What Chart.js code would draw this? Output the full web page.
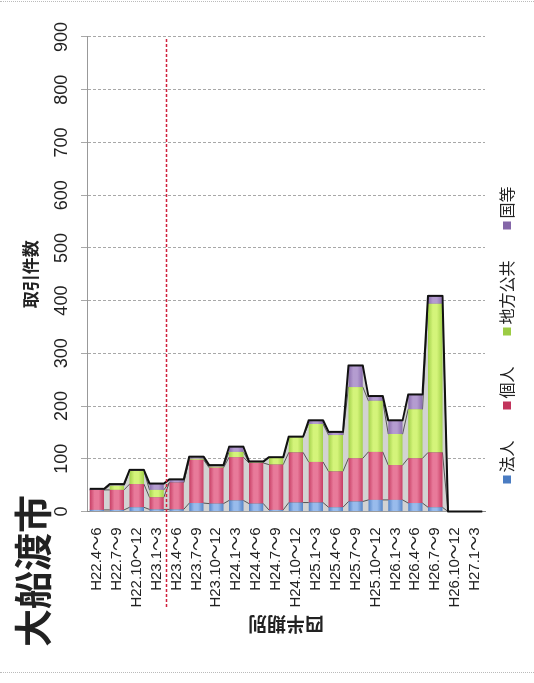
<!DOCTYPE html>
<html lang="ja">
<head>
<meta charset="utf-8">
<title>大船渡市 取引件数</title>
<script src="https://cdn.jsdelivr.net/npm/chart.js@4.4.1/dist/chart.umd.min.js"></script>
<style>
html,body{margin:0;padding:0;background:#fff;overflow:hidden;}
body{width:534px;height:683px;position:relative;}
/* the whole chart is drawn sideways, then turned a quarter to the left */
#wrap{position:absolute;left:0;top:683px;width:683px;height:534px;transform-origin:0 0;transform:rotate(-90deg);}
.edge{position:absolute;left:0;width:534px;border-top:1px dotted #bbb;}
</style>
</head>
<body>
<div class="edge" style="top:1px"></div>
<div class="edge" style="top:672px"></div>
<div id="wrap"><canvas id="chart" width="683" height="534"></canvas></div>
<script>
const cityName = '大船渡市';
const valueTitle = '取引件数';
const categoryTitle = '四半期別';
const categories = ['H22.4～6','H22.7～9','H22.10～12','H23.1～3','H23.4～6','H23.7～9','H23.10～12',
    'H24.1～3','H24.4～6','H24.7～9','H24.10～12','H25.1～3','H25.4～6','H25.7～9','H25.10～12',
    'H26.1～3','H26.4～6','H26.7～9','H26.10～12','H27.1～3'];
const seriesNames = ['法人','個人','地方公共','国等'];
const houjin = [3,3,8,4,4,16,15,21,15,3,17,17,8,19,22,22,16,8,0,0];
const kojin  = [38,38,44,23,51,82,68,82,77,86,95,77,68,82,91,66,85,104,0,0];
const chihou = [0,8,25,14,0,2,2,10,1,13,29,72,69,135,97,59,93,282,0,0];
const kuni   = [2,3,2,12,6,4,3,10,2,1,1,7,6,41,9,26,28,15,0,0];
const valueMax = 900;
const valueStep = 100;
const splitAfter = 3; // dashed line after H23.1～3

const seriesColours = ['#4a7cc2','#c2345c','#9ccc44','#8466a8'];
const seriesLights  = ['#98bbec','#e87a9a','#d4f47a','#b49cd0'];

const latin = "'Liberation Sans', 'Noto Sans CJK JP', sans-serif";
const jp = "'Noto Sans CJK JP', sans-serif";

function barFill(base, light){
    return function(ctx){
        if(ctx.type !== 'data') return base;
        const chart = ctx.chart;
        const y = chart.scales.y;
        if(!y || !chart.chartArea) return base;
        const c = y.getPixelForValue(ctx.dataIndex);
        const g = chart.ctx.createLinearGradient(0, c - 8, 0, c + 8);
        g.addColorStop(0, base);
        g.addColorStop(0.35, light);
        g.addColorStop(0.6, light);
        g.addColorStop(1, base);
        return g;
    };
}

// corner points of every bar end of one stack level
function edgePoints(chart, k){
    const pts = [];
    chart.getDatasetMeta(k).data.forEach(bar => {
        const p = bar.getProps(['x','y','height'], true);
        pts.push([p.x, p.y - p.height/2], [p.x, p.y + p.height/2]);
    });
    return pts;
}

function strokePts(ctx, pts){
    ctx.beginPath();
    pts.forEach((p, i) => i ? ctx.lineTo(p[0], p[1]) : ctx.moveTo(p[0], p[1]));
    ctx.stroke();
}

const outlinePlugin = {
    id: 'outline',
    beforeDatasetsDraw(chart){
        const ctx = chart.ctx;
        const area = chart.chartArea;
        const base = chart.scales.x.getPixelForValue(0);
        const top = edgePoints(chart, 3);
        ctx.save();
        ctx.beginPath();
        ctx.rect(area.left, area.top, area.width, area.height);
        ctx.clip();
        ctx.beginPath();
        ctx.moveTo(base, top[0][1]);
        top.forEach(p => ctx.lineTo(p[0], p[1]));
        ctx.lineTo(base, top[top.length-1][1]);
        ctx.closePath();
        ctx.fillStyle = '#d2d2d2';
        ctx.fill();
        ctx.strokeStyle = '#555';
        ctx.lineWidth = 1;
        for(let k = 0; k < 3; k++) strokePts(ctx, edgePoints(chart, k));
        ctx.restore();
    },
    afterDatasetsDraw(chart){
        const ctx = chart.ctx;
        const area = chart.chartArea;
        const y = chart.scales.y;
        ctx.save();
        ctx.strokeStyle = '#111';
        ctx.lineWidth = 2;
        ctx.lineJoin = 'round';
        strokePts(ctx, edgePoints(chart, 3));
        const split = (y.getPixelForValue(splitAfter) + y.getPixelForValue(splitAfter + 1)) / 2;
        ctx.strokeStyle = '#d0203c';
        ctx.lineWidth = 1.5;
        ctx.setLineDash([3, 2]);
        ctx.beginPath();
        ctx.moveTo(76, split);
        ctx.lineTo(area.right, split);
        ctx.stroke();
        ctx.restore();
    }
};

// city name and the legend strip under the plot
const textPlugin = {
    id: 'extraText',
    afterDraw(chart){
        const ctx = chart.ctx;
        const area = chart.chartArea;
        ctx.save();
        ctx.font = "bold 38px " + jp;
        ctx.fillStyle = '#222';
        ctx.textBaseline = 'middle';
        ctx.fillText(cityName, 36, 33);

        ctx.font = "16px " + jp;
        let x = area.left + 28;
        const y = area.bottom + 22;
        chart.data.datasets.forEach((ds, i) => {
            ctx.fillStyle = seriesColours[i];
            ctx.fillRect(x, y - 4, 8, 8);
            ctx.fillStyle = '#222';
            ctx.fillText(ds.label, x + 11, y);
            x += 11 + ctx.measureText(ds.label).width + 31;
        });
        ctx.restore();
    }
};

new Chart(document.getElementById('chart'), {
    type: 'bar',
    data: {
        labels: categories,
        datasets: [
            {label: seriesNames[0], data: houjin, backgroundColor: barFill(seriesColours[0], seriesLights[0])},
            {label: seriesNames[1], data: kojin, backgroundColor: barFill(seriesColours[1], seriesLights[1])},
            {label: seriesNames[2], data: chihou, backgroundColor: barFill(seriesColours[2], seriesLights[2])},
            {label: seriesNames[3], data: kuni, backgroundColor: barFill(seriesColours[3], seriesLights[3])}
        ]
    },
    options: {
        indexAxis: 'y',
        responsive: false,
        animation: false,
        layout: {padding: {left: 40, top: 20, right: 37, bottom: 49}},
        scales: {
            x: {
                position: 'top',
                stacked: true,
                min: 0,
                max: valueMax,
                ticks: {stepSize: valueStep, padding: 8, color: '#222', font: {family: latin, size: 18}},
                grid: {color: '#a8a8a8', tickLength: 6},
                border: {display: true, color: '#999', dash: [3, 2]},
                title: {display: true, text: valueTitle, color: '#222',
                    font: {family: jp, size: 17, weight: 'bold'}, padding: {top: 0, bottom: 9}},
                afterFit(s){ s.height = 67; }
            },
            y: {
                stacked: true,
                ticks: {padding: 16, color: '#222', autoSkip: false, font: {family: latin, size: 15}},
                grid: {display: false, drawTicks: false},
                border: {display: true, color: '#888'},
                title: {display: true, text: categoryTitle, color: '#222',
                    font: {family: jp, size: 19, weight: 'bold'}, padding: {top: 7, bottom: 0}},
                afterFit(s){ s.width = 131.5; }
            }
        },
        plugins: {
            legend: {display: false},
            tooltip: {enabled: false}
        }
    },
    plugins: [outlinePlugin, textPlugin]
});
</script>
</body>
</html>
